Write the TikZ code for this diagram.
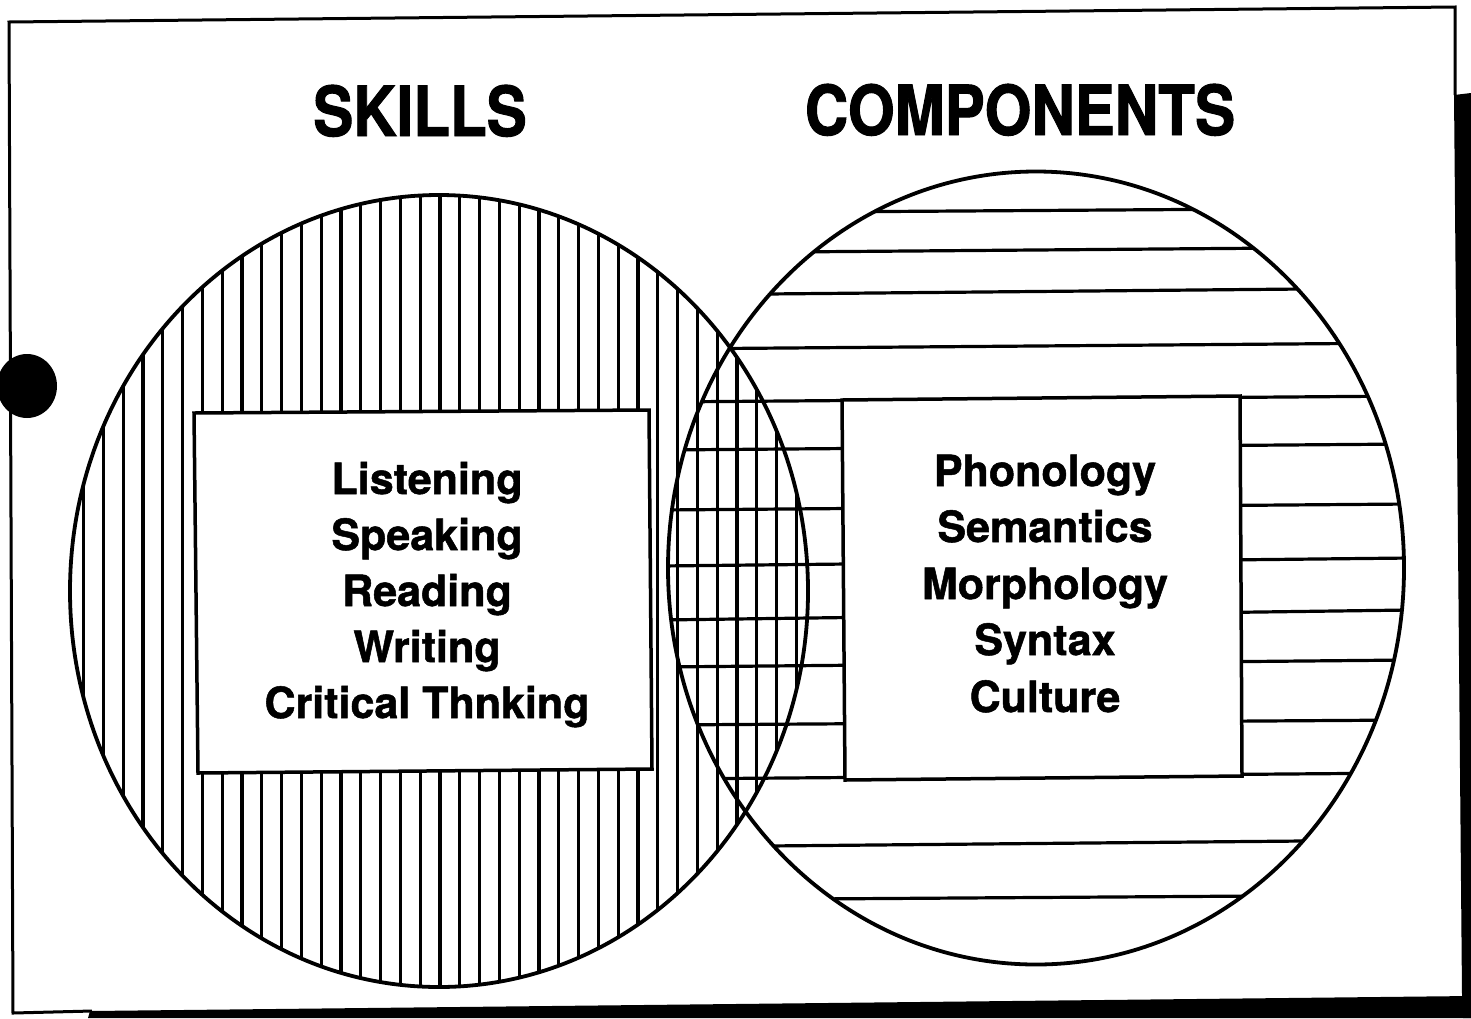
\documentclass[tikz,border=0pt]{standalone}
\usepackage{fontspec}
\setmainfont{TeX Gyre Heros}
\newfontfamily\titlefont[FakeStretch=0.87,FakeBold=1.4]{TeX Gyre Heros}
\newfontfamily\itemfont[FakeBold=1.2]{TeX Gyre Heros}
\begin{document}
\begin{tikzpicture}[x=1pt,y=-1pt,
  hatch/.style={line width=3.2pt},
  outline/.style={line width=3.8pt},
  boxline/.style={line width=3.5pt, fill=white, line join=miter},
  frameline/.style={line width=3pt},
  item/.style={font=\itemfont\fontsize{43}{50}\selectfont\bfseries, anchor=base, inner sep=0pt},
  title/.style={font=\titlefont\fontsize{69}{80}\selectfont\bfseries, anchor=base, inner sep=0pt}]
\useasboundingbox (0,0) rectangle (1471,1018);
\fill[white] (0,0) rectangle (1471,1018);

% frame
\draw[frameline] (1455,95) -- (1455,7) -- (9,22) -- (13,1013) -- (92,1011);
\fill (90,1011) -- (1471,996) -- (1471,1018) -- (88,1018) -- cycle;
\fill (1454,95) -- (1471,93) -- (1471,1018) -- (1463,1018) -- (1462,996) -- cycle;

% punch hole dot
\fill (27,386) ellipse [x radius=30, y radius=32];

% left ellipse hatching (vertical)
\begin{scope}
  \clip (439,591) ellipse [x radius=369, y radius=396];
  \foreach \k in {0,...,36} \draw[hatch] ({83.6+19.8*\k},150) -- ++(0,880);
\end{scope}

% right ellipse hatching (horizontal)
\begin{scope}
  \clip (1036,568) ellipse [x radius=368, y radius=396.5];
  \foreach \a/\b in {213/208, 253/247, 295/288, 349/343, 402/396, 450/444, 510/504, 566/558, 620/610, 667/660, 725/720, 779/773, 847/840, 900/895}
    \draw[hatch] (660,\a) -- (1410,\b);
\end{scope}

% ellipse outlines
\draw[outline] (439,591) ellipse [x radius=369, y radius=396];
\draw[outline] (1036,568) ellipse [x radius=368, y radius=396.5];

% boxes
\filldraw[boxline] (194,413) -- (649,410) -- (652,769) -- (198,773) -- cycle;
\filldraw[boxline] (842,400) -- (1240,396) -- (1242,776) -- (845,780) -- cycle;

% titles
\node[title] (skills) at (420,136) {SKILLS};
\node[title] (components) at (1020,135) {COMPONENTS};

% left items
\node[item] (l1) at (427,494) {Listening};
\node[item] (l2) at (427,550) {Speaking};
\node[item] (l3) at (427,606) {Reading};
\node[item] (l4) at (427,662) {Writing};
\node[item] (l5) at (427,718) {Critical Thnking};

% right items
\node[item] (r1) at (1045,486) {Phonology};
\node[item] (r2) at (1045,542) {Semantics};
\node[item] (r3) at (1045,599) {Morphology};
\node[item] (r4) at (1045,655) {Syntax};
\node[item] (r5) at (1045,712) {Culture};
\end{tikzpicture}
\end{document}
